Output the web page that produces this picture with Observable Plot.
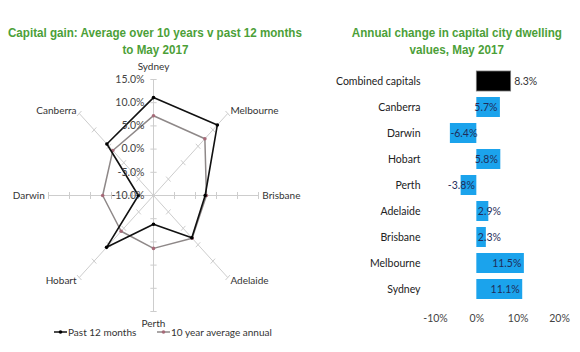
<!DOCTYPE html>
<html><head><meta charset="utf-8">
<script src="https://cdn.jsdelivr.net/npm/d3@7"></script>
<script src="https://cdn.jsdelivr.net/npm/@observablehq/plot@0.6"></script>
<style>
body{margin:0;background:#fff;}
#wrap{position:relative;width:580px;height:352px;overflow:hidden;font-family:Lato,sans-serif;background:#fff;}
.title{position:absolute;color:#4c9f38;font-family:"Liberation Sans",Arial,sans-serif;font-weight:bold;font-size:12.5px;white-space:nowrap;line-height:1;transform-origin:center center;}
.leg{position:absolute;font-family:Lato,sans-serif;font-size:10px;color:#333;white-space:nowrap;display:flex;align-items:center;}
</style></head><body><div id="wrap"></div>
<script>
// ---------- data ----------
const radarCities = ["Sydney","Melbourne","Brisbane","Adelaide","Perth","Hobart","Darwin","Canberra"];
const past12 = [11.1, 11.5, 2.3, 2.9, -3.8, 5.8, -6.4, 5.7];
const avg10 = [7.2, 7.3, 2.6, 3.0, 1.4, 0.9, 2.1, 3.7];
const radarTicks = [-10, -5, 0, 5, 10, 15];

const barCats = ["Combined capitals","Canberra","Darwin","Hobart","Perth","Adelaide","Brisbane","Melbourne","Sydney"];
const barVals = [8.3, 5.7, -6.4, 5.8, -3.8, 2.9, 2.3, 11.5, 11.1];
const barTicks = [-10, 0, 10, 20];

const leftTitle = ["Capital gain: Average over 10 years v past 12 months", "to May 2017"];
const rightTitle = ["Annual change in capital city dwelling", "values, May 2017"];
const seriesNames = ["Past 12 months", "10 year average annual"];

// ---------- layout ----------
const wrap = document.getElementById("wrap");
function addTitle(lines, cx, ys, targetW) {
  const spans = lines.map((t) => {
    const s = document.createElement("span");
    s.className = "title"; s.textContent = t;
    wrap.appendChild(s);
    return s;
  });
  const k = targetW / spans[0].getBoundingClientRect().width;
  spans.forEach((s, j) => {
    const w = s.getBoundingClientRect().width, h = s.getBoundingClientRect().height;
    s.style.left = (cx - w / 2) + "px";
    s.style.top = (ys[j] - h / 2) + "px";
    s.style.transform = `scaleX(${k})`;
  });
}
addTitle(leftTitle, 155, [33, 50], 294);
addTitle(rightTitle, 457, [33, 50], 210);

// ---------- radar ----------
const base = -10, outer = 25;
const ang = i => i * Math.PI / 4;
const P = (i, r) => [r * Math.sin(ang(i)), r * Math.cos(ang(i))];

const spokes = radarCities.map((c, i) => ({c, x2: P(i, outer)[0], y2: P(i, outer)[1]}));
const tickSegs = [];
radarCities.forEach((c, i) => {
  [5, 10, 15, 20, 25].forEach(r => {
    const [x, y] = P(i, r);
    const px = Math.cos(ang(i)), py = -Math.sin(ang(i));
    const h = 0.75;
    tickSegs.push({x1: x - h * px, y1: y - h * py, x2: x + h * px, y2: y + h * py});
  });
});
const mkSeries = (vals) => vals.map((v, i) => ({city: radarCities[i], x: P(i, v - base)[0], y: P(i, v - base)[1]}));
const s1 = mkSeries(past12), s2 = mkSeries(avg10);

const labelPos = radarCities.map((c, i) => {
  const s = Math.sin(ang(i));
  const r = Math.abs(s) < 0.1 ? outer + 2.7 : outer + 0.9;
  const [x, y] = P(i, r);
  return {c, x, y, side: Math.abs(s) < 0.1 ? "middle" : (s > 0 ? "start" : "end")};
});

const radar = Plot.plot({
  width: 325, height: 282,
  margin: 0,
  x: {domain: [-25, 25], range: [48, 258], axis: null},
  y: {domain: [-25, 25], range: [256, 24], axis: null},
  style: {fontFamily: "Lato, sans-serif", fontSize: "10px", background: "transparent"},
  marks: [
    Plot.link(spokes, {x1: d => 0, y1: d => 0, x2: "x2", y2: "y2", stroke: "#cdcdcd", strokeWidth: 1}),
    Plot.link(tickSegs, {x1: "x1", y1: "y1", x2: "x2", y2: "y2", stroke: "#cdcdcd", strokeWidth: 1}),
    Plot.line(s2, {x: "x", y: "y", curve: "linear-closed", stroke: "#8e8888", strokeWidth: 1.5}),
    Plot.dot(s2, {x: "x", y: "y", r: 1.8, fill: "#a66a78"}),
    Plot.line(s1, {x: "x", y: "y", curve: "linear-closed", stroke: "#111", strokeWidth: 1.6}),
    Plot.dot(s1, {x: "x", y: "y", r: 1.8, fill: "#000"}),
    Plot.text(radarTicks, {x: d => 0, y: d => d - base, text: d => d.toFixed(1) + "%", textAnchor: "end", dx: -9, fill: "#444", fontSize: 10.5}),
    Plot.text(labelPos.filter(d => d.side === "middle"), {x: "x", y: "y", text: "c", textAnchor: "middle", fill: "#333"}),
    Plot.text(labelPos.filter(d => d.side === "start"), {x: "x", y: "y", text: "c", textAnchor: "start", fill: "#333"}),
    Plot.text(labelPos.filter(d => d.side === "end"), {x: "x", y: "y", text: "c", textAnchor: "end", fill: "#333"})
  ]
});
radar.style.position = "absolute"; radar.style.left = "0px"; radar.style.top = "55px";
wrap.appendChild(radar);

// legend
function legItem(name, lineCol, dotCol, left, top) {
  const d = document.createElement("div");
  d.className = "leg";
  d.style.left = left + "px"; d.style.top = top + "px";
  d.innerHTML = `<svg width="13" height="8" style="margin-right:1px"><line x1="0" y1="4" x2="13" y2="4" stroke="${lineCol}" stroke-width="1.5"/><circle cx="6.5" cy="4" r="1.8" fill="${dotCol}"/></svg><span>${name}</span>`;
  wrap.appendChild(d);
}
legItem(seriesNames[0], "#111", "#000", 54, 326);
legItem(seriesNames[1], "#8e8888", "#a66a78", 157, 326);

// ---------- bars ----------
const barData = barCats.map((c, i) => ({cat: c, v: barVals[i]}));
const pxPer = 124 / 30;
const fmt = d => d.v.toFixed(1) + "%";
const fits = d => Math.abs(d.v) * pxPer >= fmt(d).length * 4.8;
const blue = barData.filter(d => d.cat !== "Combined capitals");
const comb = barData.filter(d => d.cat === "Combined capitals");
const labCol = "#1f2d5a";

const bars = Plot.plot({
  width: 250, height: 275,
  marginLeft: 105, marginRight: 21, marginTop: 7, marginBottom: 32,
  x: {domain: [-10, 20]},
  y: {domain: barCats, paddingInner: 0.25, paddingOuter: 0.125},
  style: {fontFamily: "Lato, sans-serif", fontSize: "10px", color: "#444", background: "transparent"},
  marks: [
    Plot.barX(blue, {x: "v", y: "cat", fill: "#1ba3ec"}),
    Plot.barX(comb, {x: "v", y: "cat", fill: "#000", stroke: "#777", strokeWidth: 0.8}),
    Plot.axisX(barTicks, {tickSize: 0, tickPadding: 11, tickFormat: d => d + "%", label: null, fill: "#444", fontSize: 10.5}),
    Plot.axisY({tickSize: 0, tickPadding: 15, label: null, fill: "#222", fontSize: 10.5}),
    Plot.text(comb, {x: "v", y: "cat", text: fmt, textAnchor: "start", dx: 3, fill: "#333", fontSize: 10.5}),
    Plot.text(blue.filter(d => fits(d) && d.v > 0), {x: "v", y: "cat", text: fmt, textAnchor: "end", dx: -3, fill: labCol, fontSize: 10.5}),
    Plot.text(blue.filter(d => fits(d) && d.v < 0), {x: "v", y: "cat", text: fmt, textAnchor: "start", dx: 0, fill: labCol, fontSize: 10.5}),
    Plot.text(blue.filter(d => !fits(d) && d.v > 0), {x: d => 0, y: "cat", text: fmt, textAnchor: "start", dx: 1, fill: labCol, fontSize: 10.5}),
    Plot.text(blue.filter(d => !fits(d) && d.v < 0), {x: d => 0, y: "cat", text: fmt, textAnchor: "end", dx: -2, fill: labCol, fontSize: 10.5})
  ]
});
bars.style.position = "absolute"; bars.style.left = "330px"; bars.style.top = "60px";
wrap.appendChild(bars);
</script>
</body></html>
